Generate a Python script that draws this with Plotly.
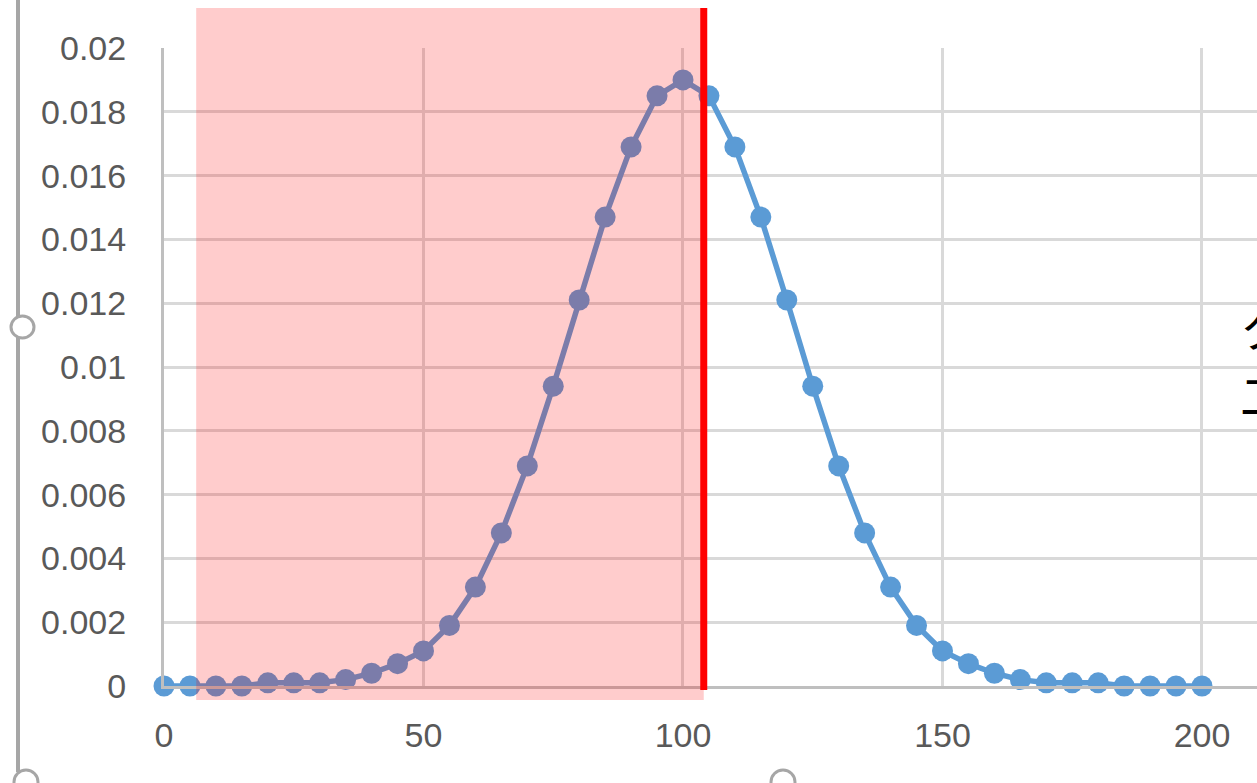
import plotly.graph_objects as go

# ---- data ----
x_vals = [0, 5, 10, 15, 20, 25, 30, 35, 40, 45, 50, 55, 60, 65, 70, 75, 80, 85, 90, 95, 100,
          105, 110, 115, 120, 125, 130, 135, 140, 145, 150, 155, 160, 165, 170, 175, 180, 185, 190, 195, 200]
y_vals = [0, 0, 0, 0, 0.0001, 0.0001, 0.0001, 0.0002, 0.0004, 0.0007, 0.0011, 0.0019, 0.0031, 0.0048,
          0.0069, 0.0094, 0.0121, 0.0147, 0.0169, 0.0185, 0.0190,
          0.0185, 0.0169, 0.0147, 0.0121, 0.0094, 0.0069, 0.0048, 0.0031, 0.0019, 0.0011, 0.0007,
          0.0004, 0.0002, 0.0001, 0.0001, 0.0001, 0, 0, 0, 0]
x_ticks = [0, 50, 100, 150, 200]
x_ticktext = ["0", "50", "100", "150", "200"]
y_ticks = [0, 0.002, 0.004, 0.006, 0.008, 0.01, 0.012, 0.014, 0.016, 0.018, 0.02]
y_ticktext = ["0", "0.002", "0.004", "0.006", "0.008", "0.01", "0.012", "0.014", "0.016", "0.018", "0.02"]
shade_x = [6.2, 104.0]
cut_x = 104.0
side_text = ["ク", "二"]

W, H = 1257, 783
L, T, B, R = 164, 48, 97, 0
PW, PH = W - L - R, H - T - B


def px(xp):
    return (xp - L) / PW


def py(yp):
    return (H - B - yp) / PH


fig = go.Figure()
fig.add_trace(go.Scatter(
    x=x_vals, y=y_vals, mode="lines+markers",
    line=dict(color="#5B9BD5", width=5.5),
    marker=dict(color="#5B9BD5", size=21),
    cliponaxis=False, showlegend=False, hoverinfo="skip"))

shapes = [
    dict(type="rect", xref="x", yref="paper", x0=shade_x[0], x1=shade_x[1],
         y0=py(700), y1=py(8), fillcolor="rgba(255,0,0,0.2)", line=dict(width=0), layer="above"),
    dict(type="line", xref="x", yref="paper", x0=cut_x, x1=cut_x,
         y0=py(690), y1=py(8), line=dict(color="#FF0000", width=7), layer="above"),
    # Excel chart frame and handles
    dict(type="line", xref="paper", yref="paper", x0=px(18), x1=px(18), y0=py(0), y1=py(772),
         line=dict(color="#A6A6A6", width=4), layer="above"),
    dict(type="circle", xref="paper", yref="paper", x0=px(11), x1=px(34), y0=py(316), y1=py(338),
         fillcolor="white", line=dict(color="#A6A6A6", width=3), layer="above"),
    dict(type="circle", xref="paper", yref="paper", x0=px(14), x1=px(38), y0=py(770), y1=py(794),
         fillcolor="white", line=dict(color="#A6A6A6", width=3), layer="above"),
    dict(type="circle", xref="paper", yref="paper", x0=px(771), x1=px(795), y0=py(770), y1=py(794),
         fillcolor="white", line=dict(color="#A6A6A6", width=3), layer="above"),
]

annotations = [
    dict(xref="paper", yref="paper", x=px(1238), y=py(326), xanchor="left", yanchor="middle",
         text=side_text[0], showarrow=False, font=dict(size=48, color="black", family="Noto Sans CJK JP")),
    dict(xref="paper", yref="paper", x=px(1238), y=py(393), xanchor="left", yanchor="middle",
         text=side_text[1], showarrow=False, font=dict(size=48, color="black", family="Noto Sans CJK JP")),
]

fig.update_layout(
    width=W, height=H,
    margin=dict(l=L, r=R, t=T, b=B, pad=0),
    paper_bgcolor="white", plot_bgcolor="white",
    shapes=shapes, annotations=annotations,
    xaxis=dict(range=[0, 210.6], tickvals=x_ticks, ticktext=x_ticktext,
               showgrid=True, gridcolor="#D9D9D9", gridwidth=3,
               showline=True, linecolor="#BFBFBF", linewidth=3,
               ticks="outside", ticklen=17, tickcolor="rgba(0,0,0,0)",
               tickfont=dict(size=34, color="#595959", family="Liberation Sans"),
               zeroline=False, fixedrange=True),
    yaxis=dict(range=[0, 0.02], tickvals=y_ticks, ticktext=y_ticktext,
               showgrid=True, gridcolor="#D9D9D9", gridwidth=3,
               showline=True, linecolor="#BFBFBF", linewidth=3,
               ticks="outside", ticklen=28, tickcolor="rgba(0,0,0,0)",
               tickfont=dict(size=34, color="#595959", family="Liberation Sans"),
               zeroline=False, fixedrange=True),
)

fig.write_html(
    "out.html",
    config={"displayModeBar": False},
    post_script="document.body.style.margin='0';document.body.style.overflow='hidden';",
)
